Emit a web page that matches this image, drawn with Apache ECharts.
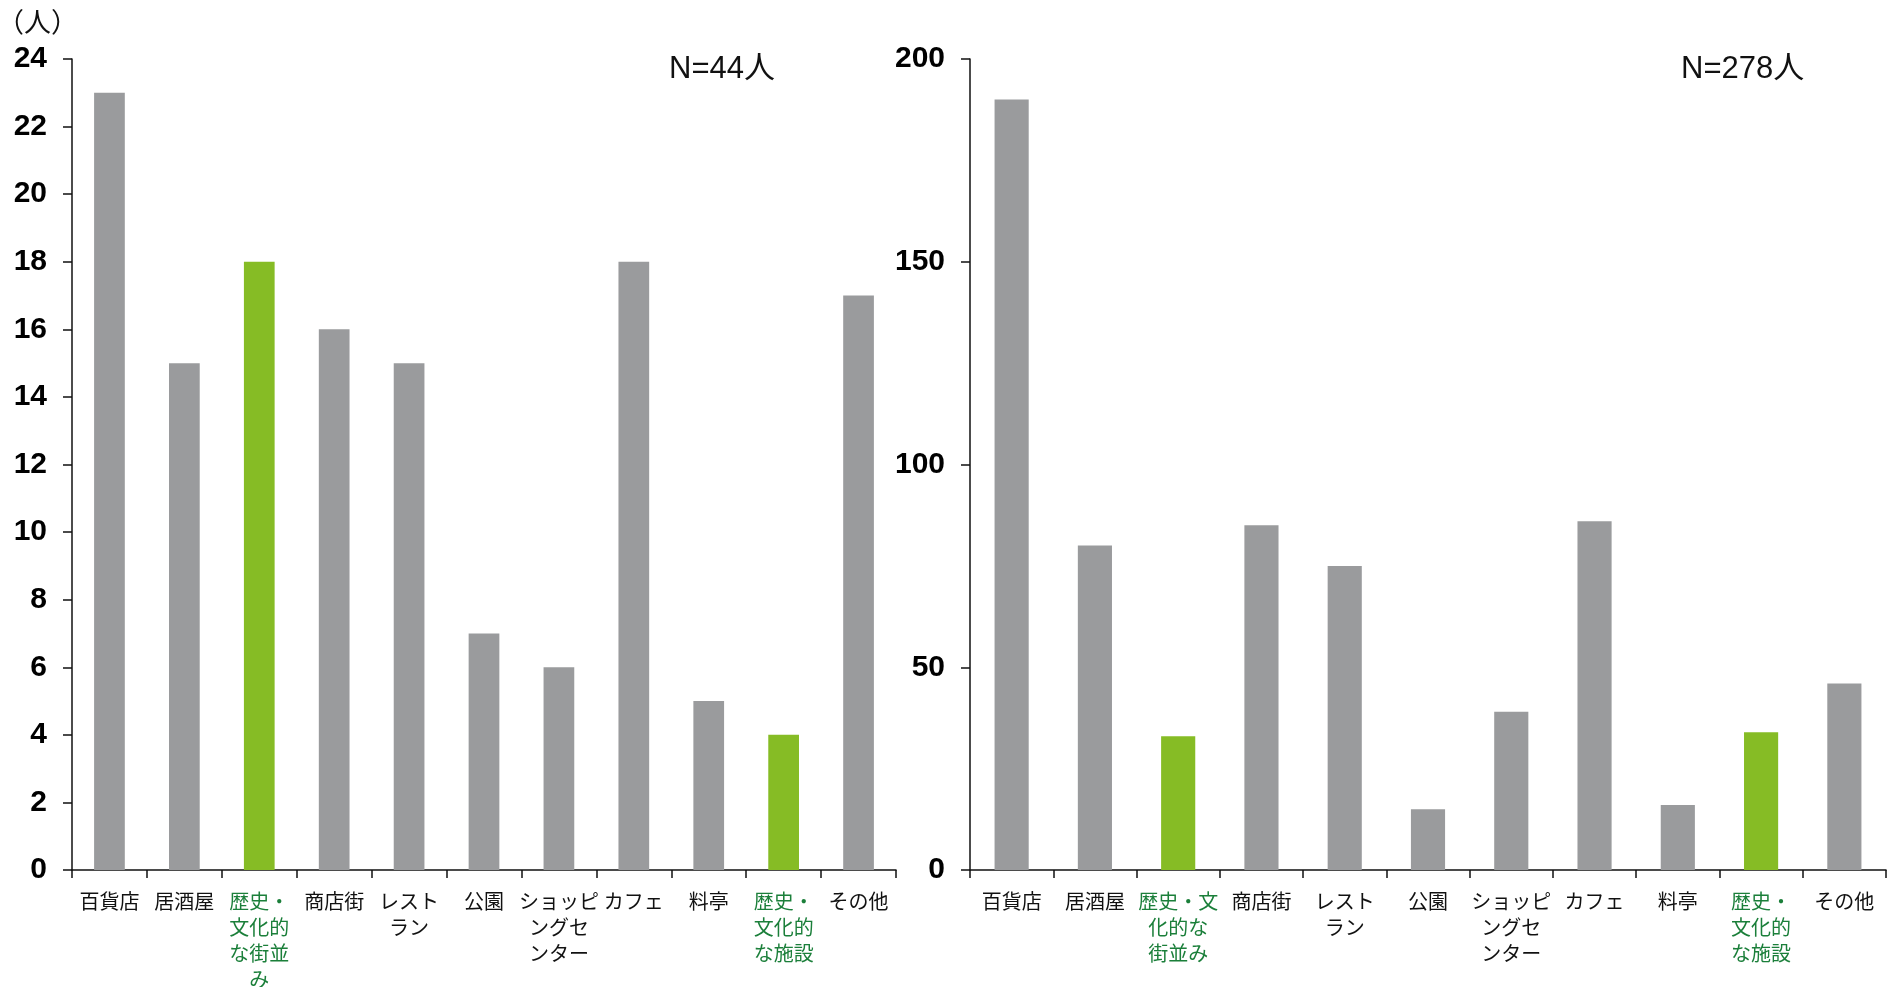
<!DOCTYPE html>
<html>
<head>
<meta charset="utf-8">
<script src="https://cdn.jsdelivr.net/npm/echarts@6/dist/echarts.min.js"></script>
<style>
  html, body { margin: 0; padding: 0; background: #fff; }
  #chart { width: 1894px; height: 987px; }
</style>
</head>
<body>
<div id="chart"></div>
<script>
// Category names (line breaks as printed under each bar)
const categoriesLeft = ['百貨店', '居酒屋', '歴史・\n文化的\nな街並\nみ', '商店街', 'レスト\nラン', '公園',
  'ショッピ\nングセ\nンター', 'カフェ', '料亭', '歴史・\n文化的\nな施設', 'その他'];
const categoriesRight = ['百貨店', '居酒屋', '歴史・文\n化的な\n街並み', '商店街', 'レスト\nラン', '公園',
  'ショッピ\nングセ\nンター', 'カフェ', '料亭', '歴史・\n文化的\nな施設', 'その他'];

// Respondent counts (人)
const valuesLeft = [23, 15, 18, 16, 15, 7, 6, 18, 5, 4, 17];
const valuesRight = [190, 80, 33, 85, 75, 15, 39, 86, 16, 34, 46];

// Indices of the historical / cultural categories drawn in green
const highlighted = [2, 9];

// Axis ranges and headings
const leftAxis = { min: 0, max: 24, interval: 2 };
const rightAxis = { min: 0, max: 200, interval: 50 };
const unitLabel = '（人）';
const nLeft = 'N=44人';
const nRight = 'N=278人';

const GRAY = '#9a9b9d';
const GREEN = '#86bc25';
const GREEN_TEXT = '#1b7f3a';
const FONT_CJK = '"Liberation Sans", "Noto Sans CJK JP", sans-serif';

function catAxis(names, gridIndex) {
  return {
    type: 'category',
    gridIndex: gridIndex,
    data: names,
    boundaryGap: true,
    axisLine: { show: true, lineStyle: { color: '#111', width: 1.5 } },
    axisTick: { show: true, alignWithLabel: false, interval: 0, length: 8, lineStyle: { color: '#111', width: 1.5 } },
    axisLabel: {
      interval: 0,
      margin: 20,
      hideOverlap: false,
      fontFamily: FONT_CJK,
      fontSize: 20,
      lineHeight: 26,
      color: '#111',
      formatter: function (value, idx) {
        const style = highlighted.indexOf(idx) >= 0 ? 'g' : 'k';
        return value.split('\n').map(function (s) { return '{' + style + '|' + s + '}'; }).join('\n');
      },
      rich: {
        k: { color: '#111', fontSize: 20, lineHeight: 26, fontFamily: FONT_CJK },
        g: { color: GREEN_TEXT, fontSize: 20, lineHeight: 26, fontFamily: FONT_CJK }
      }
    },
    splitLine: { show: false }
  };
}

function valAxis(range, gridIndex) {
  return {
    type: 'value',
    gridIndex: gridIndex,
    min: range.min,
    max: range.max,
    interval: range.interval,
    axisLine: { show: true, lineStyle: { color: '#111', width: 1.5 } },
    axisTick: { show: true, inside: false, length: 9, lineStyle: { color: '#111', width: 1.5 } },
    axisLabel: {
      margin: 25,
      fontFamily: '"Liberation Sans", Arial, sans-serif',
      fontWeight: 'bold',
      fontSize: 30,
      color: '#000'
    },
    splitLine: { show: false }
  };
}

function barSeries(values, axisIndex) {
  return {
    type: 'bar',
    xAxisIndex: axisIndex,
    yAxisIndex: axisIndex,
    barWidth: '41%',
    data: values.map(function (v, i) {
      return { value: v, itemStyle: { color: highlighted.indexOf(i) >= 0 ? GREEN : GRAY } };
    }),
    silent: true,
    animation: false
  };
}

const chart = echarts.init(document.getElementById('chart'), null, { renderer: 'canvas' });
chart.setOption({
  backgroundColor: '#fff',
  animation: false,
  grid: [
    { left: 72, right: 998, top: 59, bottom: 117, containLabel: false, outerBoundsMode: 'none' },
    { left: 970, right: 8, top: 59, bottom: 117, containLabel: false, outerBoundsMode: 'none' }
  ],
  xAxis: [catAxis(categoriesLeft, 0), catAxis(categoriesRight, 1)],
  yAxis: [valAxis(leftAxis, 0), valAxis(rightAxis, 1)],
  series: [barSeries(valuesLeft, 0), barSeries(valuesRight, 1)],
  graphic: [
    { type: 'text', x: -3, y: 22, style: { text: unitLabel, font: '27px "Noto Sans CJK JP"', fill: '#111', textVerticalAlign: 'middle' } },
    { type: 'text', x: 669, y: 69, style: { text: nLeft, font: '31px "Liberation Sans", "Noto Sans CJK JP"', fill: '#111', textVerticalAlign: 'middle' } },
    { type: 'text', x: 1681, y: 69, style: { text: nRight, font: '31px "Liberation Sans", "Noto Sans CJK JP"', fill: '#111', textVerticalAlign: 'middle' } }
  ]
});
</script>
</body>
</html>
